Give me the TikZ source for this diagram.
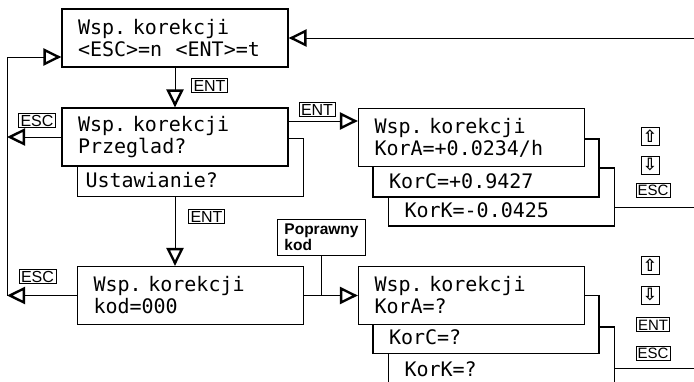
\documentclass[tikz,border=0pt]{standalone}
\usepackage{fontspec}
\usepackage{tikz}
\usetikzlibrary{arrows.meta, calc, positioning}
\newfontfamily\lcdfont{DejaVu Sans Mono}
\newfontfamily\keyfont{Liberation Sans}
\newfontfamily\symfont{DejaVu Sans}
\frenchspacing
\tikzstyle{lcd} = [rectangle, draw=black, line width=1.2pt, fill=white, minimum width=226pt, minimum height=58pt, text width=194pt, inner xsep=16pt, align=left, font=\lcdfont\fontsize{20}{22}\selectfont]
\tikzstyle{lcdback} = [lcd, inner ysep=0pt, text height=44pt, text depth=4pt]
\tikzstyle{key} = [rectangle, draw=black, line width=0.8pt, inner xsep=2pt, inner ysep=1.5pt, text height=11.5pt, text depth=0pt, font=\keyfont\fontsize{16}{16}\selectfont]
\tikzstyle{smallkey} = [key, inner xsep=1.5pt, text height=11pt, font=\keyfont\fontsize{15}{15}\selectfont]
\tikzstyle{icon} = [rectangle, draw=black, line width=0.8pt, minimum size=18pt, inner sep=0pt, font=\symfont\bfseries\fontsize{17}{17}\selectfont]
\tikzstyle{note} = [rectangle, draw=black, line width=0.9pt, align=left, inner xsep=7pt, inner ysep=5pt, font=\keyfont\bfseries\fontsize{15.5}{16}\selectfont]
\tikzstyle{line} = [draw=black, line width=0.8pt]
\tikzstyle{arrow} = [line, -{Triangle[open, length=18pt, width=17pt, line width=2.4pt]}]

\begin{document}
\begin{tikzpicture}[x=1pt, y=-1pt]
		\clip (0,0) rectangle (694,381);
		% left column
		\node (Ustaw) [lcdback, text width=210pt, inner xsep=8pt] at (190.5,167.5) {Ustawianie?};
		\node (Menu) [lcd] at (175,38) {Wsp. korekcji\\<ESC>=n~~<ENT>=t};
		\node (Przeglad) [lcd] at (175,137) {Wsp. korekcji\\Przeglad?};
		\node (Kod) [lcd] at (190.5,295.5) {Wsp. korekcji\\kod=000};
		% right column, browsing
		\node (KorK) [lcdback] at (501.5,197) {KorK=-0.0425};
		\node (KorC) [lcdback] at (486,168) {KorC=+0.9427};
		\node (KorA) [lcd] at (471.5,137.5) {Wsp. korekcji\\KorA=+0.0234/h};
		% right column, setting
		\node (NewK) [lcdback] at (501.5,356) {KorK=?};
		\node (NewC) [lcdback] at (486,324.5) {KorC=?};
		\node (NewA) [lcd] at (471.5,295.5) {Wsp. korekcji\\KorA=?};
		\node (Poprawny) [note] at (321.5,237.5) {Poprawny\\kod};
		% keys
		\node (EntMenu) [key] at (209.5,85.5) {ENT};
		\node (EscPrz) [key] at (37,120.5) {ESC};
		\node (EntPrz) [key] at (317,109.5) {ENT};
		\node (EntUst) [key] at (206.5,216.5) {ENT};
		\node (EscKod) [key] at (37.5,276.5) {ESC};
		\node (UpA) [icon] at (650,136) {⇧};
		\node (DownA) [icon] at (650,165) {⇩};
		\node (EscA) [smallkey] at (653,190) {ESC};
		\node (UpB) [icon] at (650,265) {⇧};
		\node (DownB) [icon] at (650,295) {⇩};
		\node (EntB) [smallkey] at (653,324.5) {ENT};
		\node (EscB) [smallkey] at (653,353) {ESC};
		\coordinate (Back) at (694,38);
		\coordinate (LoopTop) at (7,57);
		% connectors
		\draw [arrow] (Back) -- (Menu.east);
		\draw [arrow] (Menu.south) -- (Przeglad.north);
		\draw [arrow] (Przeglad.west) -- (Przeglad.west -| LoopTop);
		\draw [arrow] (Kod.west) -- (Kod.west -| LoopTop);
		\draw [arrow] (Kod.west -| LoopTop) -- (LoopTop) -- (LoopTop -| Menu.west);
		\draw [arrow] ([yshift=16pt]Przeglad.east) -- ([yshift=16pt]Przeglad.east -| KorA.west);
		\draw [arrow] (Przeglad.south |- Ustaw.south) -- (Przeglad.south |- Kod.north);
		\draw [arrow] (Kod.east) -- (NewA.west);
		\draw [line] (Poprawny.south) -- (Poprawny.south |- Kod.east);
		\draw [line] ([yshift=-10pt]KorK.east) -- ([yshift=-10pt]KorK.east -| Back);
		\draw [line] ([yshift=-12pt]NewK.east) -- ([yshift=-12pt]NewK.east -| Back);
\end{tikzpicture}
\end{document}
